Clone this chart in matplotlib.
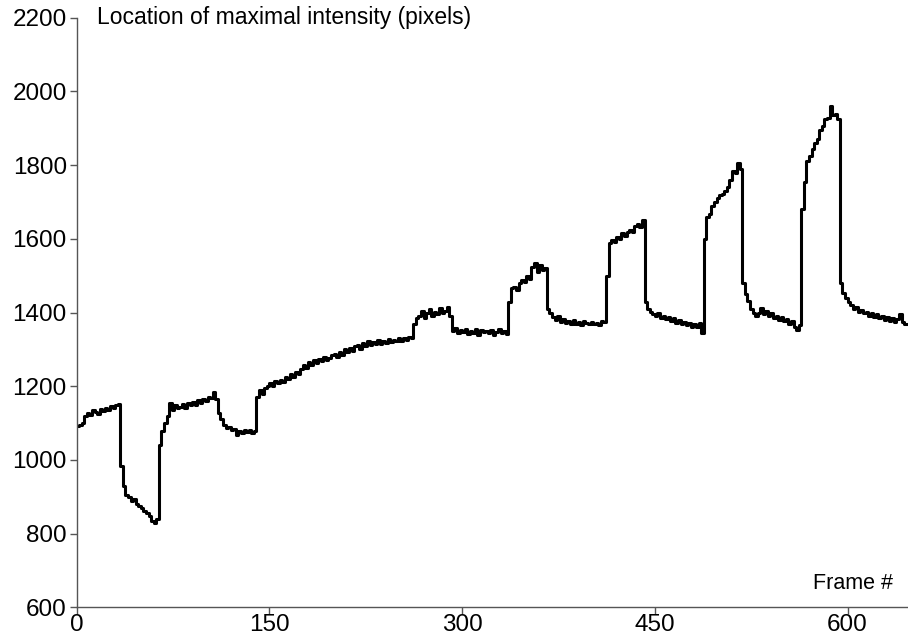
import numpy as np
import matplotlib.pyplot as plt

plt.rcParams['font.family'] = ['Liberation Sans', 'DejaVu Sans']

# frame index (every 2nd frame) and location of maximal intensity
frames = np.arange(0, 647, 2)
location = [
    1092, 1095, 1100, 1118, 1128, 1122, 1135, 1130, 1125, 1138,   # 0-18
    1132, 1142, 1136, 1146, 1140, 1150, 1152, 985, 930, 905,      # 20-38
    900, 888, 893, 880, 876, 870, 862, 855, 848, 835,             # 40-58
    828, 840, 1040, 1078, 1100, 1118, 1155, 1136, 1148, 1140,     # 60-78
    1145, 1152, 1140, 1155, 1148, 1158, 1150, 1162, 1155, 1165,   # 80-98
    1160, 1172, 1168, 1185, 1165, 1127, 1110, 1095, 1086, 1090,   # 100-118
    1080, 1085, 1068, 1078, 1072, 1082, 1075, 1080, 1073, 1078,   # 120-138
    1172, 1190, 1180, 1195, 1200, 1208, 1200, 1214, 1208, 1218,   # 140-158
    1212, 1226, 1220, 1232, 1224, 1240, 1233, 1248, 1258, 1250,   # 160-178
    1267, 1258, 1272, 1263, 1275, 1268, 1280, 1271, 1278, 1285,   # 180-198
    1288, 1280, 1294, 1286, 1300, 1292, 1303, 1296, 1308, 1312,   # 200-218
    1302, 1318, 1310, 1322, 1312, 1320, 1315, 1325, 1316, 1322,   # 220-238
    1318, 1328, 1320, 1325, 1322, 1332, 1324, 1330, 1326, 1334,   # 240-258
    1330, 1368, 1385, 1392, 1405, 1385, 1398, 1410, 1390, 1402,   # 260-278
    1395, 1412, 1398, 1405, 1415, 1390, 1350, 1358, 1345, 1352,   # 280-298
    1348, 1356, 1342, 1350, 1345, 1355, 1340, 1352, 1346, 1350,   # 300-318
    1344, 1352, 1340, 1348, 1355, 1345, 1350, 1342, 1430, 1468,   # 320-338
    1470, 1462, 1480, 1488, 1482, 1500, 1492, 1524, 1534, 1510,   # 340-358
    1528, 1515, 1520, 1410, 1398, 1388, 1380, 1390, 1375, 1382,   # 360-378
    1372, 1378, 1368, 1380, 1370, 1375, 1366, 1378, 1372, 1368,   # 380-398
    1375, 1368, 1372, 1365, 1378, 1375, 1500, 1588, 1598, 1592,   # 400-418
    1605, 1600, 1615, 1608, 1620, 1625, 1618, 1635, 1640, 1632,   # 420-438
    1650, 1430, 1410, 1402, 1395, 1390, 1398, 1385, 1392, 1382,   # 440-458
    1388, 1378, 1385, 1372, 1380, 1368, 1375, 1365, 1372, 1362,   # 460-478
    1368, 1360, 1372, 1345, 1600, 1660, 1668, 1690, 1700, 1712,   # 480-498
    1718, 1722, 1730, 1740, 1760, 1785, 1778, 1805, 1790, 1480,   # 500-518
    1450, 1432, 1410, 1400, 1390, 1398, 1412, 1395, 1405, 1390,   # 520-538
    1398, 1385, 1392, 1380, 1388, 1376, 1382, 1370, 1378, 1362,   # 540-558
    1352, 1365, 1680, 1755, 1812, 1825, 1845, 1860, 1870, 1895,   # 560-578
    1905, 1925, 1928, 1960, 1935, 1940, 1925, 1480, 1452, 1440,   # 580-598
    1430, 1420, 1410, 1415, 1402, 1408, 1398, 1402, 1392, 1398,   # 600-618
    1388, 1395, 1385, 1392, 1380, 1388, 1378, 1384, 1375, 1382,   # 620-638
    1395, 1375, 1370, 1368,                                       # 640-646
]
xticks = [0, 150, 300, 450, 600]
yticks = [600, 800, 1000, 1200, 1400, 1600, 1800, 2000, 2200]

fig = plt.figure(figsize=(9.08, 6.37), dpi=100)
ax = fig.add_axes([0.0843, 0.0465, 0.9157, 0.9256])

ax.plot(frames, location, color='black', lw=2.2, drawstyle='steps-post')

ax.set_xlim(0, 647)
ax.set_ylim(600, 2200)
ax.set_xticks(xticks)
ax.set_yticks(yticks)

for s in ['top', 'right']:
    ax.spines[s].set_visible(False)
for s in ['left', 'bottom']:
    ax.spines[s].set_color('#555555')
    ax.spines[s].set_linewidth(1.0)
ax.tick_params(direction='out', length=5, width=1.0, color='#555555', labelsize=17.5)
ax.tick_params(axis='y', pad=2)
ax.tick_params(axis='x', pad=0)

ax.text(0.025, 1.0, 'Location of maximal intensity (pixels)', transform=ax.transAxes,
        fontsize=16.5, va='center', ha='left')
ax.text(0.982, 0.041, 'Frame #', transform=ax.transAxes,
        fontsize=15.5, va='center', ha='right')

fig.savefig('out.png', dpi=100)
